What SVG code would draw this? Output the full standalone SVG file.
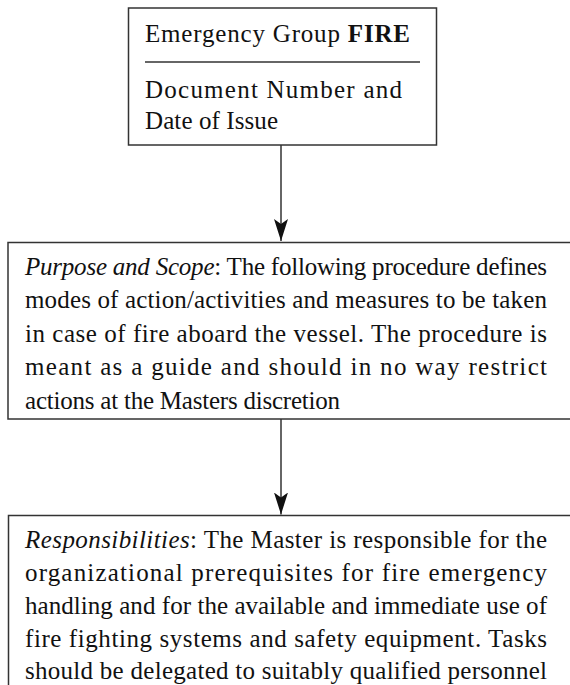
<svg xmlns="http://www.w3.org/2000/svg" width="570" height="685" viewBox="0 0 570 685">
<style>
.box{fill:#fff;stroke:#333;stroke-width:1.5}
.t{font-family:"Liberation Serif","Times New Roman",serif;font-size:25px;fill:#111}
.i{font-style:italic}
.b{font-weight:bold}
.edge{stroke:#333;stroke-width:1.5;fill:none}
</style>
<defs>
<marker id="ah" viewBox="0 0 22 14" refX="22" refY="7" markerWidth="22" markerHeight="14" markerUnits="userSpaceOnUse" orient="auto">
<path d="M0,0 L22,7 L0,14 L5,7 Z" fill="#111"/>
</marker>
</defs>
<rect width="570" height="685" fill="#fff"/>
<g id="node-header">
<rect class="box" x="128.5" y="8" width="308" height="137"/>
<text class="t" x="145" y="42" textLength="265" lengthAdjust="spacing">Emergency Group <tspan class="b">FIRE</tspan></text>
<line x1="145" y1="62" x2="420" y2="62" stroke="#333" stroke-width="1.5"/>
<text class="t" x="145" y="98" textLength="257" lengthAdjust="spacing">Document Number and</text>
<text class="t" x="145" y="129" textLength="133" lengthAdjust="spacing">Date of Issue</text>
</g>
<g id="node-purpose">
<rect class="box" x="8" y="242.5" width="580" height="176.5"/>
<text class="t" x="25" y="275" textLength="522" lengthAdjust="spacing"><tspan class="i">Purpose and Scope</tspan>: The following procedure defines</text>
<text class="t" x="25" y="308" textLength="522" lengthAdjust="spacing">modes of action/activities and measures to be taken</text>
<text class="t" x="25" y="342" textLength="522" lengthAdjust="spacing">in case of fire aboard the vessel. The procedure is</text>
<text class="t" x="25" y="375" textLength="522" lengthAdjust="spacing">meant as a guide and should in no way restrict</text>
<text class="t" x="25" y="409" textLength="315" lengthAdjust="spacing">actions at the Masters discretion</text>
</g>
<g id="node-responsibilities">
<rect class="box" x="8.5" y="515.5" width="580" height="200"/>
<text class="t" x="25" y="548" textLength="522" lengthAdjust="spacing"><tspan class="i">Responsibilities</tspan>: The Master is responsible for the</text>
<text class="t" x="25" y="581" textLength="522" lengthAdjust="spacing">organizational prerequisites for fire emergency</text>
<text class="t" x="25" y="614" textLength="522" lengthAdjust="spacing">handling and for the available and immediate use of</text>
<text class="t" x="25" y="647" textLength="522" lengthAdjust="spacing">fire fighting systems and safety equipment. Tasks</text>
<text class="t" x="25" y="679" textLength="522" lengthAdjust="spacing">should be delegated to suitably qualified personnel</text>
</g>
<g id="connectors">
<line class="edge" x1="281" y1="145" x2="281" y2="241" marker-end="url(#ah)"/>
<line class="edge" x1="281" y1="419" x2="281" y2="514.5" marker-end="url(#ah)"/>
</g>
</svg>
